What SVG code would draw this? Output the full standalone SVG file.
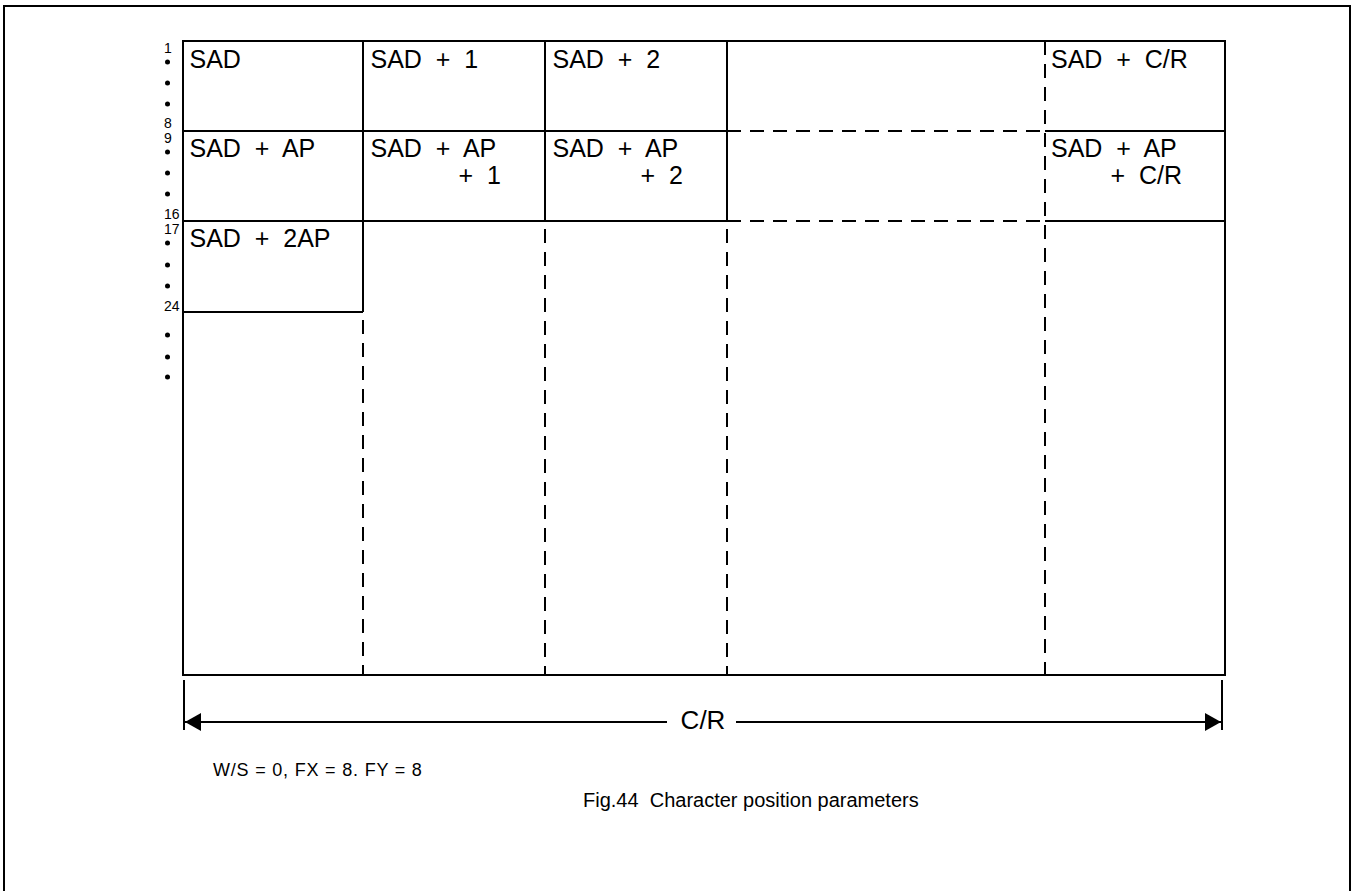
<svg xmlns="http://www.w3.org/2000/svg" width="1354" height="891" viewBox="0 0 1354 891">
<style>
.s{stroke:#000;stroke-width:2;fill:none}
.d{stroke:#000;stroke-width:2;fill:none;stroke-dasharray:14 9}
.t{font-family:"Liberation Sans",Arial,sans-serif;font-size:25px;fill:#000;white-space:pre}
.n{font-family:"Liberation Sans",Arial,sans-serif;font-size:14px;fill:#000}
.e{text-anchor:end}
</style>
<defs>
<marker id="ah" viewBox="0 0 16 18" refX="16" refY="9" markerWidth="16" markerHeight="18" markerUnits="userSpaceOnUse" orient="auto-start-reverse">
<path d="M0,0 L16,9 L0,18 Z" fill="#000"/>
</marker>
</defs>
<rect width="1354" height="891" fill="#fff"/>
<g id="frame">
<path d="M4,891 V6 H1350 V891" style="stroke:#000;stroke-width:2;fill:none"/>
</g>
<g id="connectors">
<path class="s" d="M183,41 H1225 V675 H183 Z"/>
<path class="s" d="M363,41 V312 M545,41 V221 M727,41 V221"/>
<path class="s" d="M183,131 H727 M1045,131 H1225 M183,221 H727 M1045,221 H1225 M183,312 H363"/>
<path class="d" d="M727,131 H1045 M727,221 H1045"/>
<path class="d" d="M1045,41 V675 M363,320 V675 M545,229 V675 M727,229 V675"/>
<path class="s" d="M184,680 V730 M1222,680 V730"/>
<path class="s" d="M185,722 H667" marker-start="url(#ah)"/>
<path class="s" d="M736,722 H1221" marker-end="url(#ah)"/>
</g>
<g id="row-labels">
<text class="n" x="164" y="53">1</text>
<circle cx="167.5" cy="62" r="2.5"/><circle cx="167.5" cy="83" r="2.5"/><circle cx="167.5" cy="104" r="2.5"/>
<text class="n" x="164" y="128">8</text>
<text class="n" x="164" y="143">9</text>
<circle cx="167.5" cy="152" r="2.5"/><circle cx="167.5" cy="173" r="2.5"/><circle cx="167.5" cy="194" r="2.5"/>
<text class="n" x="164" y="219">16</text>
<text class="n" x="164" y="234">17</text>
<circle cx="167.5" cy="243" r="2.5"/><circle cx="167.5" cy="265" r="2.5"/><circle cx="167.5" cy="286" r="2.5"/>
<text class="n" x="164" y="311">24</text>
<circle cx="167.5" cy="335" r="2.5"/><circle cx="167.5" cy="357" r="2.5"/><circle cx="167.5" cy="377" r="2.5"/>
</g>
<g id="cell-sad"><text class="t" x="189.5" y="68">SAD</text></g>
<g id="cell-sad1"><text class="t" x="370.5" y="68">SAD  +  1</text></g>
<g id="cell-sad2"><text class="t" x="552.5" y="68">SAD  +  2</text></g>
<g id="cell-sadcr"><text class="t" x="1051" y="68">SAD  +  C/R</text></g>
<g id="cell-sadap"><text class="t" x="189.5" y="157">SAD  +  AP</text></g>
<g id="cell-sadap1"><text class="t" x="370.5" y="157">SAD  +  AP</text><text class="t e" x="501" y="184">+  1</text></g>
<g id="cell-sadap2"><text class="t" x="552.5" y="157">SAD  +  AP</text><text class="t e" x="683" y="184">+  2</text></g>
<g id="cell-sadapcr"><text class="t" x="1051" y="157">SAD  +  AP</text><text class="t e" x="1182" y="184">+  C/R</text></g>
<g id="cell-sad2ap"><text class="t" x="189.5" y="247">SAD  +  2AP</text></g>
<g id="dim-label"><text class="t" x="703" y="729" text-anchor="middle" style="font-size:26px">C/R</text></g>
<g id="notes">
<text class="n" x="213" y="776" style="font-size:18px;letter-spacing:0.8px">W/S = 0, FX = 8. FY = 8</text>
<text class="t" x="583" y="807" style="font-size:20px">Fig.44  Character position parameters</text>
</g>
</svg>
